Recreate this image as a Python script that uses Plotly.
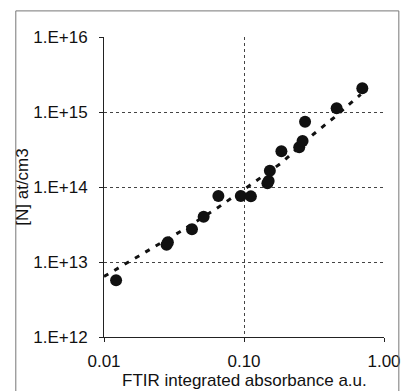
import plotly.graph_objects as go

# Measured data: FTIR integrated absorbance (a.u.) vs [N] (at/cm3)
absorbance = [0.0122, 0.0280, 0.0286, 0.0425, 0.0515, 0.0656, 0.0949, 0.112,
              0.147, 0.150, 0.153, 0.185, 0.248, 0.262, 0.273, 0.459, 0.700]
nitrogen = [5.7e12, 1.70e13, 1.84e13, 2.73e13, 4.0e13, 7.6e13, 7.6e13, 7.5e13,
            1.12e14, 1.20e14, 1.65e14, 3.0e14, 3.4e14, 4.1e14, 7.4e14, 1.12e15, 2.07e15]

# Trend line, values
trend_x = [0.010, 0.0119, 0.0151, 0.0349, 0.064, 0.117, 0.186, 0.315, 0.442, 0.682]
trend_y = [6.4e12, 7.8e12, 1.01e13, 2.53e13, 5.2e13, 1.14e14, 2.11e14, 5.09e14, 8.5e14, 1.72e15]

x_tickvals = [0.01, 0.1, 1.0]
x_ticktext = ["0.01", "0.10", "1.00"]
y_tickvals = [1e12, 1e13, 1e14, 1e15, 1e16]
y_ticktext = ["1.E+12", "1.E+13", "1.E+14", "1.E+15", "1.E+16"]
x_title = "FTIR integrated absorbance a.u."
y_title = "[N] at/cm3"

FONT = "Liberation Sans, Arial, sans-serif"

fig = go.Figure()
fig.add_trace(go.Scatter(
    x=trend_x, y=trend_y, mode="lines",
    line=dict(color="#111111", width=3, dash="5px,7px"),
    hoverinfo="skip", showlegend=False))
fig.add_trace(go.Scatter(
    x=absorbance, y=nitrogen, mode="markers",
    marker=dict(color="#111111", size=12, symbol="circle", line=dict(width=0)),
    showlegend=False, cliponaxis=False))

axis_common = dict(
    type="log", showline=True, linecolor="#222222", linewidth=1,
    ticks="outside", ticklen=4, tickcolor="#222222", tickwidth=1,
    showgrid=True, gridcolor="#444444", gridwidth=1, griddash="dot",
    zeroline=False, mirror=False,
    tickfont=dict(family=FONT, size=17, color="#111111"),
)

fig.update_xaxes(
    **axis_common, range=[-2, 0], tickvals=x_tickvals, ticktext=x_ticktext,
    ticklabelstandoff=5)
fig.update_yaxes(
    **axis_common, range=[12, 16], tickvals=y_tickvals, ticktext=y_ticktext,
    ticklabelstandoff=8,
    title=dict(text=y_title, standoff=0,
               font=dict(family=FONT, size=17, color="#111111")))

fig.add_annotation(
    text=x_title, xref="paper", yref="paper", x=0.5, y=-0.18,
    xanchor="center", yanchor="bottom", showarrow=False, borderpad=0,
    font=dict(family=FONT, size=17, color="#111111"))

# outer chart border
fig.add_shape(type="rect", xref="paper", yref="paper",
              x0=-0.315, x1=1.053, y0=-0.2, y1=1.087,
              line=dict(color="#777777", width=1), fillcolor="rgba(0,0,0,0)")

fig.update_layout(
    width=413, height=391,
    margin=dict(l=104, r=17, t=37, b=54),
    paper_bgcolor="white", plot_bgcolor="white",
    font=dict(family=FONT, size=17, color="#111111"),
)

fig.write_html("out.html", config={"displayModeBar": False},
               post_script="document.body.style.margin='0px';")
